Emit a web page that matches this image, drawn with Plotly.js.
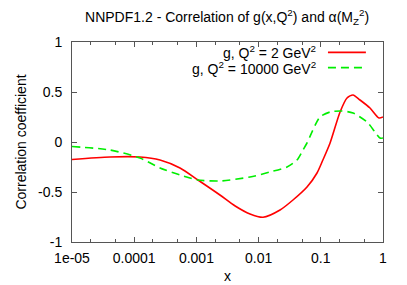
<!DOCTYPE html>
<html>
<head>
<meta charset="utf-8">
<script src="https://cdn.plot.ly/plotly-3.0.1.min.js"></script>
<style>html,body{margin:0;padding:0;background:#fff;}#chart{width:407px;height:285px;}</style>
</head>
<body>
<div id="chart"></div>
<script>
// Data
const xRed = [1e-5, 4.08e-5, 1.24e-4, 2.6e-4, 5.45e-4, 1.06e-3, 2.39e-3, 4.2e-3, 7.28e-3, 0.0118, 0.0221, 0.0357, 0.060, 0.0869, 0.108, 0.141, 0.204, 0.264, 0.330, 0.427, 0.618, 0.863, 1];
const yRed = [-0.175, -0.15, -0.15, -0.18, -0.26, -0.38, -0.53, -0.64, -0.72, -0.753, -0.68, -0.58, -0.45, -0.31, -0.18, -0.01, 0.30, 0.44, 0.47, 0.42, 0.34, 0.24, 0.25];
const xGreen = [1e-5, 4.08e-5, 1.24e-4, 2.6e-4, 5.45e-4, 1.06e-3, 2.39e-3, 7.28e-3, 0.0152, 0.0286, 0.0414, 0.0517, 0.060, 0.097, 0.141, 0.219, 0.330, 0.553, 0.743, 0.895, 1];
const yGreen = [-0.045, -0.08, -0.16, -0.26, -0.33, -0.38, -0.39, -0.35, -0.30, -0.25, -0.18, -0.08, -0.01, 0.25, 0.30, 0.31, 0.29, 0.20, 0.10, 0.04, 0.04];
const seriesNames = ["g, Q<sup>2</sup> = 2 GeV<sup>2</sup>", "g, Q<sup>2</sup> = 10000 GeV<sup>2</sup>"];
const xTickVals = [1e-5, 1e-4, 1e-3, 1e-2, 1e-1, 1];
const xTickText = ["1e-05", "0.0001", "0.001", "0.01", "0.1", "1"];
const yTickVals = [-1, -0.5, 0, 0.5, 1];
const yTickText = ["-1", "-0.5", "0", "0.5", "1"];

const font = {family: "Liberation Sans, Arial, sans-serif", size: 14, color: "#000"};
const traces = [
  {x: xRed, y: yRed, type: "scatter", mode: "lines", name: seriesNames[0],
   line: {color: "#ff0000", width: 1.6, shape: "spline", smoothing: 0.7}},
  {x: xGreen, y: yGreen, type: "scatter", mode: "lines", name: seriesNames[1],
   line: {color: "#00ee00", width: 1.6, dash: "8px,5px", shape: "spline", smoothing: 0.7}}
];
const frameColor = "#555";
const layout = {
  width: 407, height: 285,
  margin: {l: 72, r: 24, t: 42, b: 43},
  paper_bgcolor: "#fff", plot_bgcolor: "#fff",
  showlegend: false,
  font: font,
  title: {text: "NNPDF1.2 - Correlation of g(x,Q<sup>2</sup>) and α(M<sub>Z</sub><sup>2</sup>)",
          x: 0.558, xanchor: "center", y: 0.94, yanchor: "middle",
          font: {family: font.family, size: 14, color: "#000"}},
  xaxis: {type: "log", range: [-5, 0], tickvals: xTickVals, ticktext: xTickText,
          ticks: "inside", ticklen: 5, tickcolor: frameColor, mirror: "ticks",
          showline: true, linecolor: frameColor, linewidth: 1, showgrid: false, zeroline: false,
          minor: {ticks: "inside", ticklen: 3, tickcolor: frameColor, showgrid: false},
          ticklabelstandoff: 3,
          tickfont: font, title: {text: "x", font: font, standoff: 6}},
  yaxis: {range: [-1, 1], tickvals: yTickVals, ticktext: yTickText,
          ticks: "inside", ticklen: 5, tickcolor: frameColor, mirror: "ticks",
          showline: true, linecolor: frameColor, linewidth: 1, showgrid: false, zeroline: false,
          ticklabelstandoff: 6,
          tickfont: font, title: {text: "Correlation coefficient", font: font, standoff: 8}},
  annotations: [
    {xref: "paper", yref: "paper", x: 0.79, y: 0.948, xanchor: "right", yanchor: "middle",
     text: seriesNames[0], showarrow: false, font: font},
    {xref: "paper", yref: "paper", x: 0.79, y: 0.872, xanchor: "right", yanchor: "middle",
     text: seriesNames[1], showarrow: false, font: font}
  ],
  shapes: [
    {type: "line", xref: "paper", yref: "paper", x0: 0.823, x1: 0.945, y0: 0.948, y1: 0.948,
     line: {color: "#ff0000", width: 1.6}},
    {type: "line", xref: "paper", yref: "paper", x0: 0.823, x1: 0.945, y0: 0.872, y1: 0.872,
     line: {color: "#00ee00", width: 1.6, dash: "8px,5px"}}
  ]
};
Plotly.newPlot("chart", traces, layout, {displayModeBar: false, staticPlot: true});
</script>
</body>
</html>
